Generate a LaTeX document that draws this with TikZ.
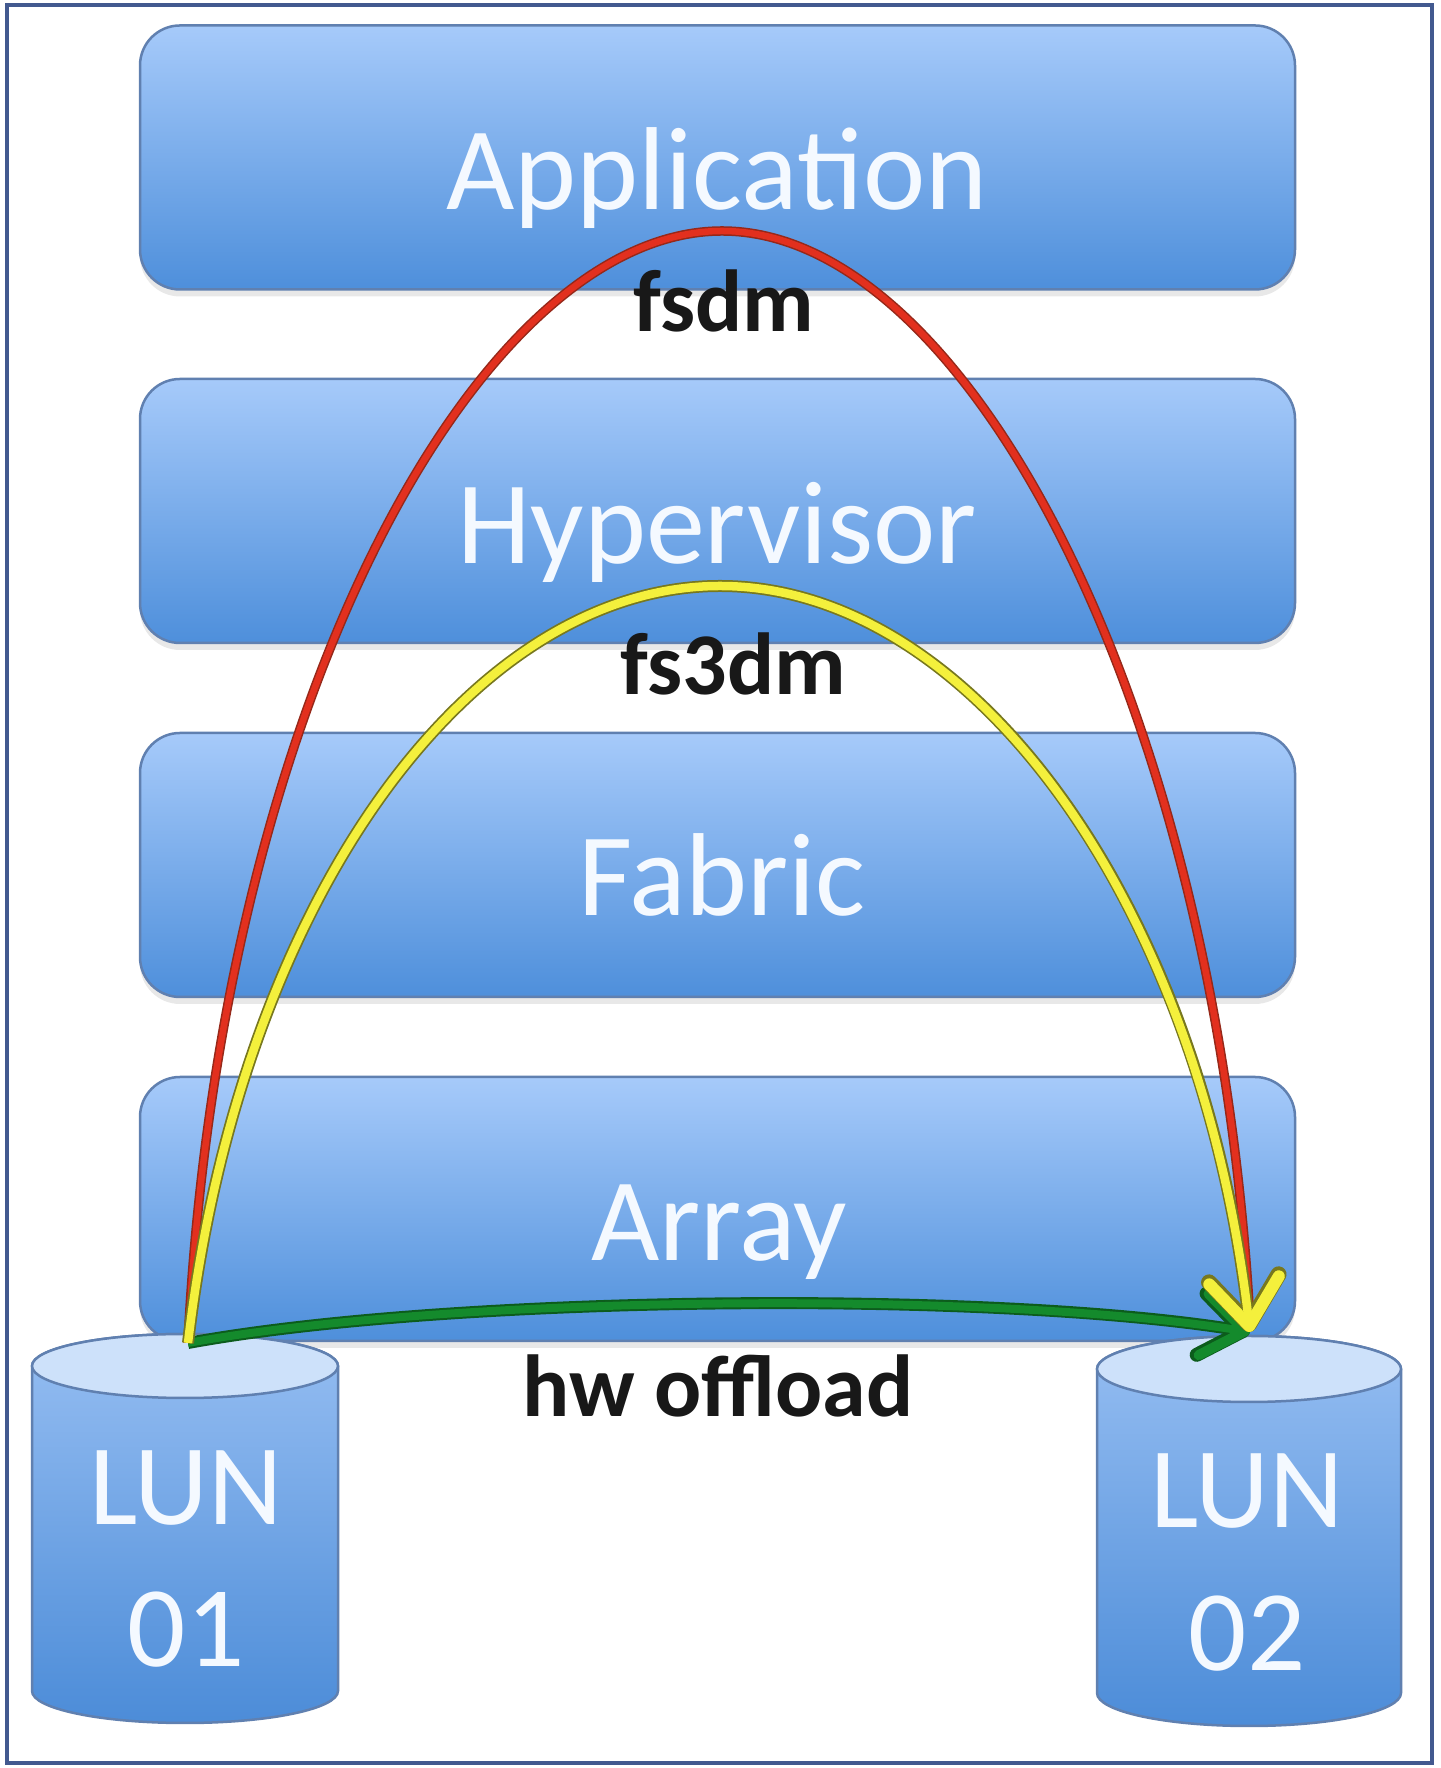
\documentclass[tikz,border=0pt]{standalone}
\usepackage{fontspec}
\setmainfont{Carlito}
\usetikzlibrary{arrows.meta,shadows}

\definecolor{frameblue}{RGB}{66,89,143}
\definecolor{boxtop}{RGB}{166,202,250}
\definecolor{boxbottom}{RGB}{78,143,219}
\definecolor{boxedge}{RGB}{96,128,176}
\definecolor{cyltopfill}{RGB}{205,225,250}
\definecolor{cylbodytop}{RGB}{150,190,242}
\definecolor{cylbodybottom}{RGB}{76,140,216}
\definecolor{labelwhite}{RGB}{244,249,255}
\definecolor{ink}{RGB}{24,24,24}
\definecolor{redline}{RGB}{226,48,30}
\definecolor{rededge}{RGB}{150,40,25}
\definecolor{yellowline}{RGB}{244,240,60}
\definecolor{yellowedge}{RGB}{120,120,30}
\definecolor{greenline}{RGB}{20,138,44}
\definecolor{greenedge}{RGB}{12,92,28}

\begin{document}
\begin{tikzpicture}[x=1pt,y=1pt,
  layer/.style={draw=boxedge, line width=2.5pt, rounded corners=40pt,
    top color=boxtop, bottom color=boxbottom,
    minimum width=1155pt, minimum height=264pt, inner sep=0pt,
    drop shadow={shadow xshift=0pt, shadow yshift=-7pt, opacity=0.18}},
  layertext/.style={text=labelwhite, font=\fontsize{118}{118}\selectfont,
    anchor=base, inner sep=0pt},
  luntext/.style={text=labelwhite, font=\fontsize{115}{115}\selectfont,
    anchor=base, inner sep=0pt},
  pathlabel/.style={text=ink, font=\bfseries\fontsize{88}{88}\selectfont,
    anchor=base, inner sep=0pt},
  cylbody/.style={draw=boxedge, line width=2.5pt,
    top color=cylbodytop, bottom color=cylbodybottom},
  cyltop/.style={draw=boxedge, line width=2.5pt, fill=cyltopfill},
  barbunder/.style={-{Straight Barb[length=46pt,width=70pt,round,line width=16pt]}},
  barbover/.style={-{Straight Barb[length=46pt,width=70pt,round,line width=12pt]}},
  greenbarbunder/.style={-{Straight Barb[length=42pt,width=62pt,round,line width=14pt]}},
  greenbarbover/.style={-{Straight Barb[length=42pt,width=62pt,round,line width=10pt]}}
]
\useasboundingbox (0,0) rectangle (1440,1768);
\fill[white] (0,0) rectangle (1440,1768);
\draw[frameblue, line width=4pt] (7,5) rectangle (1432,1763);

% stacked layers
\node[layer] (app)    at (717.5,1610.5) {};
\node[layer] (hyp)    at (717.5,1257)   {};
\node[layer] (fabric) at (717.5,903)    {};
\node[layer] (array)  at (717.5,559)    {};

\node[layertext] (appt) at (717,1558) {Application};
\node[layertext] (hypt) at (717,1204) {Hypervisor};
\node[layertext] (fabt) at (722,852)  {Fabric};
\node[layertext] (arrt) at (719,507)  {Array};

% storage cylinders
\path[cylbody] (32,402) -- (32,77)
  arc[start angle=180, end angle=360, x radius=153, y radius=32]
  -- (338,402)
  arc[start angle=0, end angle=180, x radius=153, y radius=32] -- cycle;
\path[cyltop] (185,402) ellipse[x radius=153, y radius=32];

\path[cylbody] (1097,399) -- (1097,75)
  arc[start angle=180, end angle=360, x radius=152, y radius=33]
  -- (1401,399)
  arc[start angle=0, end angle=180, x radius=152, y radius=33] -- cycle;
\path[cyltop] (1249,399) ellipse[x radius=152, y radius=33];

\node[luntext] (lun1a) at (186,243)  {LUN};
\node[luntext] (lun1b) at (186,101)  {01};
\node[luntext] (lun2a) at (1247,240) {LUN};
\node[luntext] (lun2b) at (1247,97)  {02};

% copy paths between the two LUNs
\coordinate (src) at (188,425);
\coordinate (dst) at (1250,436);
\coordinate (redapex) at (722,1537);
\coordinate (yelapex) at (720,1182);

\draw[greenedge, line width=12pt, greenbarbunder]
  (src) .. controls (450,473) and (990,478) .. (dst);
\draw[greenline, line width=8pt, greenbarbover]
  (src) .. controls (450,473) and (990,478) .. (dst);

\draw[rededge, line width=9.5pt]
  (src) .. controls (220,1068) and (480,1537) .. (redapex)
        .. controls (964,1537) and (1216,1068) .. ([yshift=10pt]dst);
\draw[redline, line width=6.5pt]
  (src) .. controls (220,1068) and (480,1537) .. (redapex)
        .. controls (964,1537) and (1216,1068) .. ([yshift=10pt]dst);

\draw[yellowedge, line width=12pt, barbunder]
  (src) .. controls (240,868) and (470,1182) .. (yelapex)
        .. controls (970,1182) and (1200,868) .. (dst);
\draw[yellowline, line width=8.5pt, barbover]
  (src) .. controls (240,868) and (470,1182) .. (yelapex)
        .. controls (970,1182) and (1200,868) .. (dst);

\node[pathlabel] (fsdm)  at (724,1436) {fsdm};
\node[pathlabel] (fs3dm) at (733,1073) {fs3dm};
\node[pathlabel] (hwoff) at (718,351)  {hw offload};
\end{tikzpicture}
\end{document}
